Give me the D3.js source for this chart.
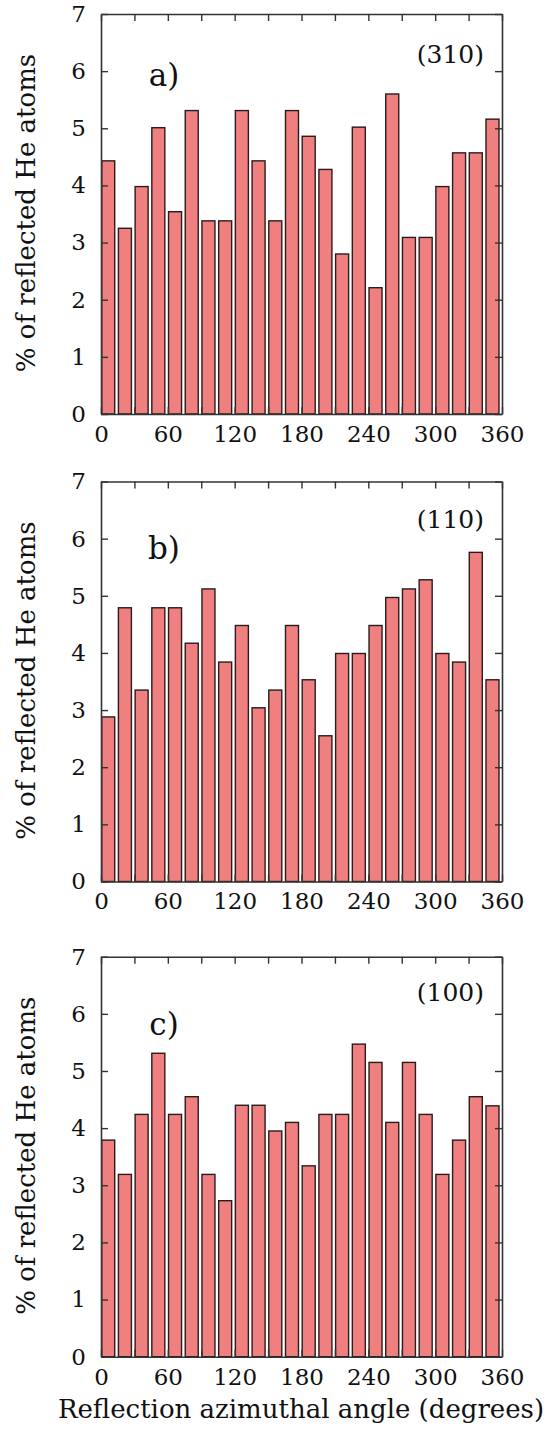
<!DOCTYPE html>
<html><head><meta charset="utf-8">
<script src="https://cdn.jsdelivr.net/npm/d3@7"></script>
<style>body{margin:0;background:#fff}</style>
</head><body>
<svg id="chart" width="548" height="1434"></svg>
<script>
// ---- data ----
const binStarts = [0,15,30,45,60,75,90,105,120,135,150,165,180,195,210,225,240,255,270,285,300,315,330,345];
const binWidth = 15;
const xTickValues = [0,30,60,90,120,150,180,210,240,270,300,330,360];
const xTickLabels = [0,60,120,180,240,300,360];
const yTicks = [0,1,2,3,4,5,6,7];
const valuesA = [4.43,3.25,3.98,5.01,3.54,5.31,3.38,3.38,5.31,4.43,3.38,5.31,4.86,4.28,2.80,5.02,2.21,5.60,3.09,3.09,3.98,4.57,4.57,5.16];
const valuesB = [2.88,4.79,3.35,4.79,4.79,4.17,5.12,3.84,4.48,3.04,3.35,4.48,3.53,2.55,3.99,3.99,4.48,4.97,5.12,5.28,3.99,3.84,5.76,3.53];
const valuesC = [3.79,3.19,4.24,5.31,4.24,4.55,3.19,2.73,4.40,4.40,3.95,4.10,3.34,4.24,4.24,5.47,5.15,4.10,5.15,4.24,3.19,3.79,4.55,4.39];
const panelLetters = ["a)","b)","c)"];
const surfaces = ["(310)","(110)","(100)"];
const yTitle = "% of reflected He atoms";
const xTitle = "Reflection azimuthal angle (degrees)";

// ---- layout ----
const L = {left:101, right:502, h:400, tops:[14,481.5,956.7], letterY:[72,77,78], surfY:[49,46,44]};
const font = "DejaVu Serif";
const svg = d3.select("#chart");
const x = d3.scaleLinear().domain([0,360]).range([L.left, L.right]);
const y = d3.scaleLinear().domain([0,7]).range([L.h, 0]);
const series = [valuesA, valuesB, valuesC];

series.forEach((vals, i) => {
  const g = svg.append("g").attr("transform", `translate(0,${L.tops[i]})`);
  const data = binStarts.map((s, k) => ({s, v: vals[k]}));
  g.selectAll("rect").data(data).join("rect")
    .attr("x", d => x(d.s) + 0.7)
    .attr("width", d => x(d.s + binWidth*0.85) - x(d.s) - 1.2)
    .attr("y", d => y(d.v))
    .attr("height", d => y(0) - y(d.v))
    .attr("fill", "#f08080")
    .attr("stroke", "#2a1c1c")
    .attr("stroke-width", 1.4);

  const fmt = d => xTickLabels.includes(d) ? d : "";
  const ax = [
    g.append("g").attr("transform", `translate(0,${L.h})`).call(d3.axisBottom(x).tickValues(xTickValues).tickSize(-7).tickSizeOuter(0).tickPadding(11.5).tickFormat(fmt)),
    g.append("g").call(d3.axisTop(x).tickValues(xTickValues).tickSize(-7).tickSizeOuter(0).tickFormat("")),
    g.append("g").attr("transform", `translate(${L.left},0)`).call(d3.axisLeft(y).tickValues(yTicks).tickSize(-7).tickSizeOuter(0).tickPadding(15).tickFormat(d3.format("d"))),
    g.append("g").attr("transform", `translate(${L.right},0)`).call(d3.axisRight(y).tickValues(yTicks).tickSize(-7).tickSizeOuter(0).tickFormat(""))
  ];
  ax.forEach(a => {
    a.selectAll("path.domain").attr("stroke", "#333").attr("stroke-width", 1.6);
    a.selectAll(".tick line").attr("stroke", "#333").attr("stroke-width", 1.4);
    a.selectAll("text").attr("font-family", font).attr("font-size", 23).attr("fill", "#111");
  });

  g.append("text").attr("x", 164).attr("y", L.letterY[i]).attr("text-anchor", "middle")
    .attr("font-family", font).attr("font-size", 31).attr("fill", "#111").text(panelLetters[i]);
  g.append("text").attr("x", 484).attr("y", L.surfY[i]).attr("text-anchor", "end")
    .attr("font-family", font).attr("font-size", 25).attr("fill", "#111").text(surfaces[i]);
  g.append("text").attr("transform", `translate(35,${L.h/2 - 1}) rotate(-90)`).attr("text-anchor", "middle")
    .attr("font-family", font).attr("font-size", 26).attr("fill", "#111").text(yTitle);
});

svg.append("text").attr("x", 301).attr("y", 1418).attr("text-anchor", "middle")
  .attr("font-family", font).attr("font-size", 26).attr("fill", "#111").text(xTitle);
</script>
</body></html>
